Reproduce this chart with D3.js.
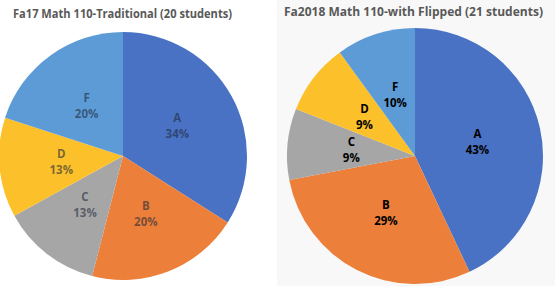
<!DOCTYPE html>
<html>
<head>
<meta charset="utf-8">
<script src="https://cdn.jsdelivr.net/npm/d3@7"></script>
<style>
  body { margin: 0; background: #fff; }
  svg { display: block; }
</style>
</head>
<body>
<div id="chart"></div>
<script>
// grades, in pie order (clockwise from 12 o'clock)
const grades = ["A", "B", "C", "D", "F"];
const fa17Values = [34, 20, 13, 13, 20];
const fa18Values = [43, 29, 9, 9, 10];
const gradeColors = ["#4a72c4", "#ec7f3a", "#a6a6a6", "#fcc12a", "#5c9bd6"];

const titles = [
    "Fa17 Math 110-Traditional (20 students)",
    "Fa2018 Math 110-with Flipped (21 students)"
];

const width = 555, height = 286;

const svg = d3.select("#chart")
    .append("svg")
    .attr("width", width)
    .attr("height", height);

// right panel has a light grey background
svg.append("rect")
    .attr("x", 277)
    .attr("y", 0)
    .attr("width", width - 277)
    .attr("height", height)
    .attr("fill", "#f8f8f8");

const colors = d3.scaleOrdinal().domain(grades).range(gradeColors);

const panels = [
    {values: fa17Values, cx: 123, cy: 156, r: 124, title: titles[0], tx: 13, ty: 18, tw: 219, fs: 12,
        labelFill: "#1f2a3a", labelOpacity: 0.6},
    {values: fa18Values, cx: 415, cy: 156, r: 128, title: titles[1], tx: 284, ty: 16, tw: 259, fs: 12.5,
        labelFill: "#000", labelOpacity: 1}
];

const pie = d3.pie().sort(null).value(d => d.value);

panels.forEach(function (p) {
    const data = grades.map((g, i) => ({grade: g, value: p.values[i]}));
    const arcs = pie(data);
    const arc = d3.arc().innerRadius(0).outerRadius(p.r);
    const labelArc = d3.arc().innerRadius(p.r * 0.5).outerRadius(p.r * 0.5);

    const g = svg.append("g")
        .attr("transform", "translate(" + p.cx + "," + p.cy + ")");

    g.selectAll("path")
        .data(arcs)
        .join("path")
        .attr("d", arc)
        .attr("fill", d => colors(d.data.grade));

    const labels = g.selectAll("text")
        .data(arcs)
        .join("text")
        .attr("transform", d => "translate(" + labelArc.centroid(d) + ")")
        .attr("text-anchor", "middle")
        .style("font-family", "'Open Sans', sans-serif")
        .style("font-weight", "bold")
        .style("font-size", "11.5px")
        .attr("fill", p.labelFill)
        .attr("fill-opacity", p.labelOpacity);

    labels.append("tspan")
        .attr("x", 0)
        .attr("y", -4)
        .text(d => d.data.grade);
    labels.append("tspan")
        .attr("x", 0)
        .attr("y", 12)
        .text(d => d.data.value + "%");

    svg.append("text")
        .attr("x", p.tx)
        .attr("y", p.ty)
        .attr("textLength", p.tw)
        .attr("lengthAdjust", "spacingAndGlyphs")
        .style("font-family", "'Open Sans', sans-serif")
        .style("font-weight", "bold")
        .style("font-size", p.fs + "px")
        .attr("fill", "#595959")
        .text(p.title);
});
</script>
</body>
</html>
